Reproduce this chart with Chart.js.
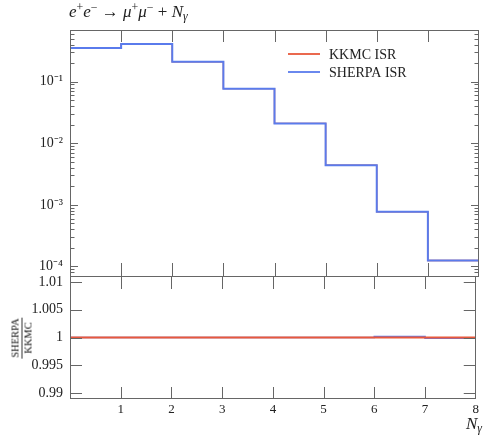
<!DOCTYPE html>
<html>
<head>
<meta charset="utf-8">
<script src="https://cdn.jsdelivr.net/npm/chart.js@4.4.0/dist/chart.umd.min.js"></script>
<style>
  body { margin: 0; background: #fff; }
  #wrap { position: relative; width: 483px; height: 436px; font-family: "Liberation Serif", serif; color: #222; }
  canvas { position: absolute; left: 0; top: 0; }
  .lbl { position: absolute; white-space: nowrap; font-size: 17px; line-height: 17px; }
  .lbl sup, .lbl sub { font-size: 70%; vertical-align: baseline; position: relative; }
  .lbl sup { top: -0.5em; }
  .lbl sub { top: 0.25em; }
  #title { left: 69px; top: 3px; }
  #xlabel { right: 1px; top: 415px; }
  #ratioLabel { position: absolute; left: 22px; top: 338px; transform: translate(-50%, -50%) rotate(-90deg);
    display: flex; flex-direction: column; align-items: center; font-size: 10.5px; line-height: 10px; color: #111; }
  #ratioLabel span:first-child { border-bottom: 1px solid #333; padding: 0 1px 1px; }
  #ratioLabel span:last-child { padding-top: 1px; }
</style>
</head>
<body>
<div id="wrap">
  <canvas id="mainChart" width="483" height="436"></canvas>
  <canvas id="ratioChart" width="483" height="436"></canvas>
  <div class="lbl" id="title"><i>e</i><sup>+</sup><i>e</i><sup>−</sup> → <i>μ</i><sup>+</sup><i>μ</i><sup>−</sup> + <i>N</i><sub><i>γ</i></sub></div>
  <div class="lbl" id="xlabel"><i>N</i><sub><i>γ</i></sub></div>
  <div id="ratioLabel"><span>SHERPA</span><span>KKMC</span></div>
</div>
<script>
// histogram bins: N_gamma = 0..7
const binEdges = [0, 1, 2, 3, 4, 5, 6, 7, 8];
const kkmcISR = [0.353, 0.41, 0.21, 0.077, 0.021, 0.0044, 0.00077, 0.000125];
const sherpaISR = [0.353, 0.41, 0.21, 0.077, 0.021, 0.0044, 0.00077, 0.000125];
const kkmcRatio = [1, 1, 1, 1, 1, 1, 1, 1];
const sherpaRatio = [1, 1, 1, 1, 1, 1, 1.0002, 0.9999];
const seriesNames = ['KKMC ISR', 'SHERPA ISR'];
const ratioTicks = [0.99, 0.995, 1, 1.005, 1.01];

const RED = '#e8583c';
const BLUE = '#5a7bec';
const FRAME = '#666';
const FONT = '"Liberation Serif", serif';

const supDigits = { '-': '⁻', '0': '⁰', '1': '¹', '2': '²', '3': '³', '4': '⁴', '5': '⁵', '6': '⁶', '7': '⁷', '8': '⁸', '9': '⁹' };

// step points: each bin's value held from its left edge, last value repeated at the right edge
const toSteps = (vals) => binEdges.map((x, i) => ({ x, y: vals[Math.min(i, vals.length - 1)] }));

const isDecade = (v) => Math.abs(Math.log10(v) - Math.round(Math.log10(v))) < 1e-9;

// frame + inward ticks, positions taken from the chart scales
const framePlugin = {
  id: 'frame',
  afterDatasetsDraw(chart, args, o) {
    const { ctx, chartArea: a, scales } = chart;
    const xs = scales.x, ys = scales.y;
    ctx.save();
    ctx.strokeStyle = FRAME;
    ctx.lineWidth = 1;
    ctx.beginPath();
    xs.ticks.forEach(t => {
      if (t.value <= xs.min || t.value >= xs.max) return;
      const px = Math.round(xs.getPixelForValue(t.value)) + 0.5;
      if (o.xTop) { ctx.moveTo(px, a.top); ctx.lineTo(px, a.top + o.xTop); }
      if (o.xBottom) { ctx.moveTo(px, a.bottom); ctx.lineTo(px, a.bottom - o.xBottom); }
    });
    let yVals = [];
    if (ys.type === 'logarithmic') {
      for (let e = Math.floor(Math.log10(ys.min)); e <= Math.ceil(Math.log10(ys.max)); e++) {
        for (let k = 1; k <= 9; k++) yVals.push({ v: k * Math.pow(10, e), major: k === 1 });
      }
    } else {
      yVals = ys.ticks.map(t => ({ v: t.value, major: true }));
    }
    yVals.forEach(({ v, major }) => {
      if (v <= ys.min || v >= ys.max) return;
      const py = Math.round(ys.getPixelForValue(v)) + 0.5;
      const len = major ? o.yMajor : o.yMinor;
      ctx.moveTo(a.left, py); ctx.lineTo(a.left + len, py);
      ctx.moveTo(a.right, py); ctx.lineTo(a.right - len, py);
    });
    ctx.stroke();
    ctx.strokeRect(Math.round(a.left) + 0.5, Math.round(a.top) + 0.5,
      Math.round(a.right - a.left) - 1, Math.round(a.bottom - a.top));
    ctx.restore();
  }
};

const legendPlugin = {
  id: 'sideLegend',
  afterDraw(chart) {
    const { ctx } = chart;
    const colors = [RED, BLUE];
    ctx.save();
    ctx.font = '14px ' + FONT;
    ctx.textBaseline = 'middle';
    seriesNames.forEach((name, i) => {
      const y = 54 + i * 18;
      ctx.strokeStyle = colors[i];
      ctx.lineWidth = 1.8;
      ctx.beginPath();
      ctx.moveTo(288, y); ctx.lineTo(320, y);
      ctx.stroke();
      ctx.fillStyle = '#222';
      ctx.fillText(name, 329, y + 1);
    });
    ctx.restore();
  }
};

const lineDs = (label, data, color, width) => ({
  label, data, borderColor: color, borderWidth: width, stepped: 'before',
  pointRadius: 0, fill: false, tension: 0
});

new Chart(document.getElementById('mainChart'), {
  type: 'line',
  data: {
    datasets: [
      lineDs(seriesNames[1], toSteps(sherpaISR), BLUE, 2),
      lineDs(seriesNames[0], toSteps(kkmcISR), RED, 1.4)
    ]
  },
  options: {
    responsive: false,
    animation: false,
    layout: { padding: { top: 30, right: 4, bottom: 160, left: 0 } },
    plugins: {
      legend: { display: false },
      tooltip: { enabled: false },
      frame: { xTop: 12, xBottom: 13, yMajor: 8, yMinor: 4.5 }
    },
    scales: {
      x: {
        type: 'linear', min: 0, max: 8,
        ticks: { stepSize: 1, display: false },
        grid: { display: false, drawTicks: false },
        border: { display: false },
        afterFit: s => { s.height = 0; }
      },
      y: {
        type: 'logarithmic', min: 7.4e-5, max: 0.69,
        ticks: {
          autoSkip: false, padding: 7, color: '#222',
          font: { family: FONT, size: 14 },
          callback: v => isDecade(v) ? '10' + String(Math.round(Math.log10(v))).split('').map(c => supDigits[c]).join('') : ''
        },
        grid: { display: false, drawTicks: false },
        border: { display: false },
        afterFit: s => { s.width = 70; }
      }
    }
  },
  plugins: [framePlugin, legendPlugin]
});

new Chart(document.getElementById('ratioChart'), {
  type: 'line',
  data: {
    datasets: [
      lineDs(seriesNames[0], toSteps(kkmcRatio), RED, 2),
      lineDs(seriesNames[1], toSteps(sherpaRatio), BLUE, 1.6)
    ]
  },
  options: {
    responsive: false,
    animation: false,
    layout: { padding: { top: 276, right: 4, bottom: 0, left: 0 } },
    plugins: {
      legend: { display: false },
      tooltip: { enabled: false },
      frame: { xTop: 13, xBottom: 11, yMajor: 12, yMinor: 12 }
    },
    scales: {
      x: {
        type: 'linear', min: 0, max: 8,
        ticks: {
          stepSize: 1, padding: 4, color: '#222', maxRotation: 0,
          font: { family: FONT, size: 13 },
          callback: v => v === 0 ? '' : String(v)
        },
        grid: { display: false, drawTicks: false },
        border: { display: false },
        afterFit: s => { s.height = 38; }
      },
      y: {
        type: 'linear', min: 0.9891, max: 1.0111,
        afterBuildTicks: s => { s.ticks = ratioTicks.map(v => ({ value: v })); },
        ticks: {
          autoSkip: false, padding: 7, color: '#222',
          font: { family: FONT, size: 14 },
          callback: v => String(Number(v.toFixed(4)))
        },
        grid: { display: false, drawTicks: false },
        border: { display: false },
        afterFit: s => { s.width = 70; }
      }
    }
  },
  plugins: [framePlugin]
});
</script>
</body>
</html>
